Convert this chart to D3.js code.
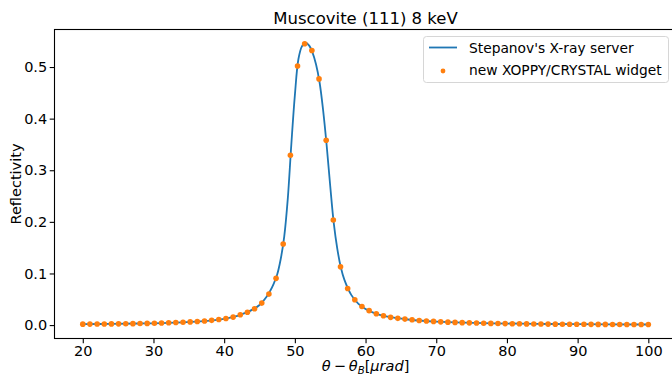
<!DOCTYPE html>
<html>
<head>
<meta charset="utf-8">
<script src="https://cdn.jsdelivr.net/npm/d3@7"></script>
<style>
  html, body { margin: 0; padding: 0; background: #fff; }
  svg { display: block; font-family: "DejaVu Sans", sans-serif; }
</style>
</head>
<body>
<svg id="chart" width="672" height="374"></svg>
<script>
// ---- data ----
const title = "Muscovite (111) 8 keV";
const seriesNames = ["Stepanov's X-ray server", "new XOPPY/CRYSTAL widget"];
const xTicks = [20, 30, 40, 50, 60, 70, 80, 90, 100];
const yTicks = [0.0, 0.1, 0.2, 0.3, 0.4, 0.5];

// Stepanov curve (line)
const lineX = [20, 24, 28, 32, 36, 38, 40, 41, 42, 43, 44, 45, 46, 46.5, 47, 47.5, 48, 48.5, 49, 49.5,
  50, 50.5, 51, 51.5, 52, 52.5, 53, 53.5, 54, 54.5, 55, 55.5, 56, 56.5, 57, 58, 59, 60, 61, 62,
  64, 66, 68, 70, 74, 78, 84, 90, 100];
const lineY = [0.0018, 0.0023, 0.0031, 0.0043, 0.0068, 0.0088, 0.0122, 0.0147, 0.0185, 0.0235, 0.0300, 0.0390,
  0.055, 0.066, 0.080, 0.098, 0.128, 0.172, 0.245, 0.350,
  0.445, 0.515, 0.540, 0.547, 0.542, 0.528, 0.505, 0.470, 0.416, 0.348, 0.270, 0.198, 0.148, 0.112, 0.088,
  0.058, 0.041, 0.031, 0.0245, 0.0200, 0.0143, 0.0108, 0.0084, 0.0068, 0.0046, 0.0034, 0.0024, 0.0017, 0.0011];

// XOPPY points: 80 points from 20 to 100
const pointX = [20.00, 21.01, 22.03, 23.04, 24.05, 25.06, 26.08, 27.09, 28.10, 29.11,
  30.13, 31.14, 32.15, 33.16, 34.18, 35.19, 36.20, 37.22, 38.23, 39.24,
  40.25, 41.27, 42.28, 43.29, 44.30, 45.32, 46.33, 47.34, 48.35, 49.37,
  50.38, 51.39, 52.41, 53.42, 54.43, 55.44, 56.46, 57.47, 58.48, 59.49,
  60.51, 61.52, 62.53, 63.54, 64.56, 65.57, 66.58, 67.59, 68.61, 69.62,
  70.63, 71.65, 72.66, 73.67, 74.68, 75.70, 76.71, 77.72, 78.73, 79.75,
  80.76, 81.77, 82.78, 83.80, 84.81, 85.82, 86.84, 87.85, 88.86, 89.87,
  90.89, 91.90, 92.91, 93.92, 94.94, 95.95, 96.96, 97.97, 98.99, 100.00];
const pointY = [0.0018, 0.0019, 0.0020, 0.0021, 0.0023, 0.0024, 0.0026, 0.0028, 0.0031, 0.0033,
  0.0036, 0.0040, 0.0044, 0.0049, 0.0055, 0.0062, 0.0070, 0.0080, 0.0092, 0.0107,
  0.0127, 0.0155, 0.0200, 0.0250, 0.0316, 0.0426, 0.0600, 0.0905, 0.157, 0.329,
  0.502, 0.545, 0.532, 0.477, 0.358, 0.2035, 0.113, 0.071, 0.049, 0.036,
  0.028, 0.022, 0.018, 0.015, 0.013, 0.0116, 0.0103, 0.0090, 0.0080, 0.0071,
  0.0063, 0.0057, 0.0052, 0.0047, 0.0043, 0.0039, 0.0036, 0.0033, 0.0031, 0.0029,
  0.0027, 0.0025, 0.0023, 0.0022, 0.0021, 0.0019, 0.0018, 0.0017, 0.0016, 0.0016,
  0.0015, 0.0014, 0.0013, 0.0013, 0.0012, 0.0012, 0.0011, 0.0011, 0.0010, 0.0010];

// ---- layout ----
const L = 54.5, R = 676.6, T = 29.5, B = 338.5;
const fs = 14.5;
const svg = d3.select("#chart");

const x = d3.scaleLinear().domain([16, 104]).range([L, R]);
const y = d3.scaleLinear().domain([-0.026, 0.5727]).range([B, T]);

const lineData = lineX.map((v, i) => [v, lineY[i]]);
const pointData = pointX.map((v, i) => [v, pointY[i]]);

// line
svg.append("path")
  .datum(lineData)
  .attr("fill", "none")
  .attr("stroke", "#1f77b4")
  .attr("stroke-width", 1.8)
  .attr("d", d3.line().x(d => x(d[0])).y(d => y(d[1])).curve(d3.curveCatmullRom.alpha(0.5)));

// points
svg.append("g").selectAll("circle")
  .data(pointData)
  .join("circle")
  .attr("cx", d => x(d[0]))
  .attr("cy", d => y(d[1]))
  .attr("r", 2.8)
  .attr("fill", "#ff7f0e");

// spines
svg.append("rect")
  .attr("x", L).attr("y", T).attr("width", R - L).attr("height", B - T)
  .attr("fill", "none").attr("stroke", "#000").attr("stroke-width", 1.1);

// axes
const xAxis = svg.append("g").attr("transform", `translate(0,${B})`)
  .call(d3.axisBottom(x).tickValues(xTicks).tickSize(4.8).tickPadding(2).tickFormat(d3.format("d")));
const yAxis = svg.append("g").attr("transform", `translate(${L},0)`)
  .call(d3.axisLeft(y).tickValues(yTicks).tickSize(4.8).tickPadding(2.5).tickFormat(d3.format(".1f")));
[xAxis, yAxis].forEach(g => {
  g.select(".domain").remove();
  g.selectAll(".tick line").attr("stroke", "#000").attr("stroke-width", 1.1);
  g.selectAll(".tick text").attr("fill", "#000").attr("font-size", fs).attr("font-family", "DejaVu Sans");
});

// title
svg.append("text")
  .attr("x", (L + R) / 2).attr("y", 24)
  .attr("text-anchor", "middle").attr("font-size", 16.5).attr("fill", "#000")
  .text(title);

// y label
svg.append("text")
  .attr("transform", `translate(21,${(T + B) / 2}) rotate(-90)`)
  .attr("text-anchor", "middle").attr("font-size", fs).attr("fill", "#000")
  .text("Reflectivity");

// x label (math-like)
const xl = svg.append("text")
  .attr("x", (L + R) / 2).attr("y", 371)
  .attr("text-anchor", "middle").attr("font-size", fs).attr("fill", "#000");
xl.append("tspan").attr("font-style", "italic").text("θ");
xl.append("tspan").attr("dx", 3).text("−");
xl.append("tspan").attr("dx", 3).attr("font-style", "italic").text("θ");
xl.append("tspan").attr("font-style", "italic").attr("font-size", 10.2).attr("dy", 2.5).text("B");
xl.append("tspan").attr("dy", -2.5).text("[");
xl.append("tspan").attr("font-style", "italic").text("μrad");
xl.append("tspan").text("]");

// legend
const lg = svg.append("g");
lg.append("rect")
  .attr("x", 423.5).attr("y", 36.5).attr("width", 245).attr("height", 46)
  .attr("rx", 3).attr("fill", "#fff").attr("fill-opacity", 0.8)
  .attr("stroke", "#d6d6d6").attr("stroke-width", 1);
lg.append("line")
  .attr("x1", 429).attr("x2", 457).attr("y1", 47.5).attr("y2", 47.5)
  .attr("stroke", "#1f77b4").attr("stroke-width", 1.8);
lg.append("circle").attr("cx", 443).attr("cy", 71).attr("r", 2.4).attr("fill", "#ff7f0e");
lg.selectAll("text.leg")
  .data(seriesNames)
  .join("text")
  .attr("class", "leg")
  .attr("x", 469)
  .attr("y", (d, i) => 52.5 + i * 22)
  .attr("font-size", 13.8).attr("fill", "#000")
  .text(d => d);
</script>
</body>
</html>
